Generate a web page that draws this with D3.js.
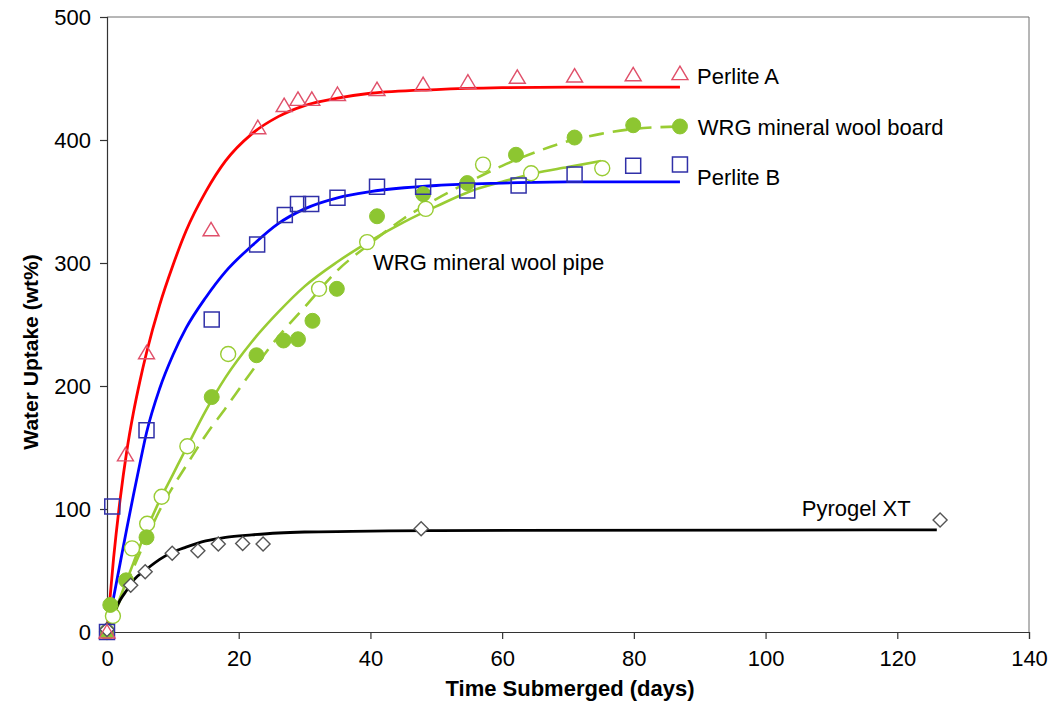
<!DOCTYPE html>
<html>
<head>
<meta charset="utf-8">
<script src="https://cdn.jsdelivr.net/npm/d3@7"></script>
<style>
  html, body { margin: 0; padding: 0; background: #fff; }
  svg { display: block; font-family: "Liberation Sans", Arial, sans-serif; }
</style>
</head>
<body>
<svg id="chart" width="1055" height="709"></svg>
<script>
// ---------- data ----------
const xTicks = [0, 20, 40, 60, 80, 100, 120, 140];
const yTicks = [0, 100, 200, 300, 400, 500];

const perliteADays = [0, 2.8, 6.0, 15.8, 22.9, 26.9, 29, 31.1, 35, 41, 48, 54.8, 62.3, 71, 79.9, 87];
const perliteAVals = [0, 144, 227, 327, 410, 428, 433, 433, 437, 441, 445, 447, 451, 452, 453, 454];

const perliteBDays = [0, 0.8, 6.0, 15.9, 22.8, 27, 29, 31, 35, 41, 48, 54.7, 62.5, 71, 79.9, 87];
const perliteBVals = [0, 102, 164, 254, 315, 339, 348, 348, 353, 362, 362, 359, 363, 372, 379, 380];

const pyrogelDays = [0, 3.6, 5.8, 9.9, 13.8, 16.9, 20.6, 23.7, 47.7, 126.5];
const pyrogelVals = [2, 38, 49, 64, 66, 71.5, 72, 71.5, 84, 91];

const boardDays = [0, 0.5, 2.9, 6.0, 15.9, 22.7, 26.8, 29, 31.2, 34.9, 41, 48, 54.7, 62.1, 71, 79.9, 87];
const boardVals = [0, 22, 42, 77, 191, 225, 237, 238, 253, 279, 338, 356, 365, 388, 402, 412, 411];

const pipeDays = [0, 0.9, 3.8, 6.1, 8.3, 12.2, 18.4, 32.2, 39.5, 48.4, 57.1, 64.4, 75.2];
const pipeVals = [0, 13, 68, 88, 110, 151, 226, 279, 317, 344, 380, 373, 377];

// fitted curves
const fitADays = [0, 1, 2, 3, 4, 5, 6, 8, 10, 12, 15, 18, 22, 26, 30, 35, 40, 50, 60, 70, 87];
const fitAVals = [0, 60, 108, 147, 178, 204, 227, 266, 298, 326, 358, 383, 405, 419, 428, 434, 438, 441, 442.5, 443, 443];

const fitBDays = [0, 1, 2, 3, 4, 5, 6, 8, 10, 12, 15, 18, 22, 26, 30, 35, 40, 50, 60, 70, 87];
const fitBVals = [0, 28, 56, 84, 111, 137, 162, 198, 225, 247, 272, 293, 314, 332, 344, 353, 358, 363, 365, 366, 366];

const fitPyroDays = [0, 1, 2, 3, 4, 6, 8, 10, 12, 15, 18, 22, 26, 30, 40, 50, 126];
const fitPyroVals = [0, 15, 26, 34, 42, 51, 59, 65, 69, 74, 77, 79, 80.5, 81.3, 82, 82.5, 83];

const fitPipeDays = [0, 2, 4, 6, 8, 10, 12, 15, 18, 22, 26, 30, 35, 40, 45, 50, 55, 60, 65, 70, 75];
const fitPipeVals = [0, 28, 56, 83, 107, 128, 149, 180, 207, 236, 260, 281, 301, 318, 333, 346, 358, 366, 373, 378, 383];

const fitBoardDays = [0, 2, 4, 6, 8, 10, 12, 15, 18, 22, 26, 30, 35, 40, 45, 50, 55, 60, 65, 70, 75, 80, 87];
const fitBoardVals = [0, 26, 52, 76, 99, 118, 135, 160, 182, 212, 240, 264, 294, 316, 336, 352, 366, 379, 390, 399, 405, 409, 411];

const labelTexts = ["Perlite A", "WRG mineral wool board", "Perlite B", "WRG mineral wool pipe", "Pyrogel XT"];
const labelDays = [89.6, 89.7, 89.6, 40.4, 105.5];
const labelVals = [452, 410.6, 370, 300.8, 100.8];

// ---------- layout ----------
const svg = d3.select("#chart");
const margin = { left: 107, top: 17, right: 26, bottom: 77 };
const W = 1055 - margin.left - margin.right;
const H = 709 - margin.top - margin.bottom;

const x = d3.scaleLinear().domain([0, 140]).range([0, W]);
const y = d3.scaleLinear().domain([0, 500]).range([H, 0]);

const g = svg.append("g").attr("transform", `translate(${margin.left},${margin.top})`);

// plot frame (top/right)
g.append("path")
  .attr("d", `M0,0H${W}V${H}`)
  .attr("fill", "none").attr("stroke", "#6e6e6e").attr("stroke-width", 1);

// axes
const xAxis = g.append("g").attr("transform", `translate(0,${H})`)
  .call(d3.axisBottom(x).tickValues(xTicks).tickSize(7).tickPadding(8).tickFormat(d3.format("d")));
const yAxis = g.append("g")
  .call(d3.axisLeft(y).tickValues(yTicks).tickSize(7).tickPadding(9).tickFormat(d3.format("d")));
[xAxis, yAxis].forEach(a => {
  a.select(".domain").attr("stroke", "#333").attr("stroke-width", 1.2);
  a.selectAll(".tick line").attr("stroke", "#333").attr("stroke-width", 1.2);
  a.selectAll(".tick text").attr("fill", "#000").style("font-size", "22px")
    .style("font-family", "'Liberation Sans', Arial, sans-serif");
});
xAxis.selectAll(".tick text").attr("dy", "0.85em");

// axis titles
svg.append("text")
  .attr("x", 570).attr("y", 696)
  .attr("text-anchor", "middle")
  .style("font-size", "22px").style("font-weight", "bold")
  .text("Time Submerged (days)");
svg.append("text")
  .attr("transform", "translate(38,352) rotate(-90)")
  .attr("text-anchor", "middle")
  .style("font-size", "21px").style("font-weight", "bold")
  .text("Water Uptake (wt%)");

const zip = (a, b) => a.map((d, i) => [d, b[i]]);
const line = d3.line().x(d => x(d[0])).y(d => y(d[1])).curve(d3.curveMonotoneX);

const green = "#99cc33";
const greenFill = "#8dc631";

// fitted lines
const fits = [
  { pts: zip(fitBoardDays, fitBoardVals), color: green, dash: "15,9", w: 2.6 },
  { pts: zip(fitPipeDays, fitPipeVals), color: green, dash: null, w: 2.6 },
  { pts: zip(fitPyroDays, fitPyroVals), color: "#000000", dash: null, w: 2.8 },
  { pts: zip(fitBDays, fitBVals), color: "#0000ff", dash: null, w: 2.8 },
  { pts: zip(fitADays, fitAVals), color: "#ff0000", dash: null, w: 2.8 }
];
fits.forEach(f => {
  g.append("path").attr("d", line(f.pts))
    .attr("fill", "none").attr("stroke", f.color).attr("stroke-width", f.w)
    .attr("stroke-dasharray", f.dash);
});

// markers
function drawMarkers(days, vals, shape, stroke, fill, sw) {
  g.append("g").selectAll("path").data(zip(days, vals)).join("path")
    .attr("transform", d => `translate(${x(d[0])},${y(d[1])})`)
    .attr("d", shape)
    .attr("fill", fill).attr("stroke", stroke).attr("stroke-width", sw);
}
const tri = "M0,-7.5L8,6L-8,6Z";
const sq = "M-7.5,-7.5H7.5V7.5H-7.5Z";
const dia = "M0,-7L7,0L0,7L-7,0Z";
const circ = d3.symbol().type(d3.symbolCircle).size(Math.PI * 56)();

drawMarkers(pipeDays, pipeVals, circ, green, "#ffffff", 1.4);
drawMarkers(boardDays, boardVals, circ, greenFill, greenFill, 1);
drawMarkers(pyrogelDays, pyrogelVals, dia, "#555555", "#ffffff", 1.4);
drawMarkers(perliteBDays, perliteBVals, sq, "#3030a8", "none", 1.5);
drawMarkers(perliteADays, perliteAVals, tri, "#e0506a", "none", 1.4);

// series labels
labelTexts.forEach((t, i) => {
  g.append("text")
    .attr("x", x(labelDays[i]))
    .attr("y", y(labelVals[i]))
    .attr("dy", "0.35em")
    .style("font-size", "22px").attr("fill", "#000")
    .text(t);
});
</script>
</body>
</html>
